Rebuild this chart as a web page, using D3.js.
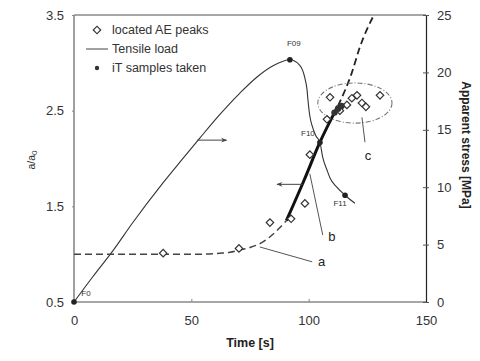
<!DOCTYPE html>
<html>
<head>
<meta charset="utf-8">
<script src="https://cdn.jsdelivr.net/npm/d3@7"></script>
<style>
  body { margin: 0; background: #fff; }
  svg { display: block; font-family: "Liberation Sans", Arial, sans-serif; }
</style>
</head>
<body>
<div id="chart"></div>
<script>
// --- data ---
// tensile load curve: time [s] / apparent stress [MPa]
const loadTime   = [0, 8, 16.7, 25, 38, 46, 53.7, 62, 70.7, 78, 85, 92, 96.3, 98.4, 99.3, 99.7, 100.5, 101.4, 103, 104.8, 106, 107.8, 109.1, 112, 115.5, 119.7];
const loadStress = [0, 2.2, 4.5, 6.9, 10.4, 12.4, 14.3, 16.3, 18.2, 19.6, 20.6, 21.1, 20.6, 19.5, 18.5, 17.6, 16.2, 15.4, 14.5, 13.9, 12.6, 11.5, 10.8, 10.0, 9.3, 8.6];

// crack growth a/a0 : dashed start, bold middle, dashed end
const crackLowTime = [0, 20, 40, 55, 62, 66.5, 70, 75, 80, 84.4, 87, 90.5];
const crackLowA    = [1.0, 1.0, 1.0, 1.0, 1.01, 1.02, 1.04, 1.07, 1.12, 1.2, 1.26, 1.35];
const crackMidTime = [90.5, 98, 104.8, 112.5];
const crackMidA    = [1.35, 1.77, 2.17, 2.55];
const crackUpTime  = [112.5, 118.3, 121.9, 127.8];
const crackUpA     = [2.55, 2.89, 3.17, 3.5];

// located AE peaks
const aeTime = [38, 70.3, 83.5, 92.5, 98.4, 100.5, 107.8, 109.1, 113.3, 116.3, 118.4, 120.6, 122.7, 124.4, 130.4];
const aeA    = [1.01, 1.06, 1.33, 1.37, 1.53, 2.04, 2.41, 2.64, 2.50, 2.56, 2.63, 2.66, 2.58, 2.54, 2.66];

// iT samples on the load curve (F0, F09, F10, F11) and on the crack curve
const itLabels = ["F0", "F09", "F10", "F11"];
const itTime   = [0, 92, 104.8, 115.5];
const itStress = [0, 21.1, 13.9, 9.3];
const itCrackTime = [111, 112.5, 114];
const itCrackA    = [2.48, 2.52, 2.55];

const xTicks = [0, 50, 100, 150];
const yLeftTicks = [0.5, 1.5, 2.5, 3.5];
const yRightTicks = [0, 5, 10, 15, 20, 25];

const width = 480, height = 361;
const margin = { top: 15, right: 54, bottom: 59, left: 74 };

const svg = d3.select("#chart").append("svg")
    .attr("width", width)
    .attr("height", height);

const x = d3.scaleLinear().domain([0, 150]).range([margin.left, width - margin.right]);
const yL = d3.scaleLinear().domain([0.5, 3.5]).range([height - margin.bottom, margin.top]);
const yR = d3.scaleLinear().domain([0, 25]).range([height - margin.bottom, margin.top]);

const x0 = x(0), x1 = x(150), yb = yL(0.5), yt = yL(3.5);

// frame
svg.append("line").attr("x1", x0).attr("x2", x1).attr("y1", yt).attr("y2", yt)
    .attr("stroke", "#888").attr("stroke-width", 1.4);
svg.append("line").attr("x1", x0).attr("x2", x1).attr("y1", yb).attr("y2", yb)
    .attr("stroke", "#888").attr("stroke-width", 1.6);
svg.append("line").attr("x1", x0).attr("x2", x0).attr("y1", yt).attr("y2", yb)
    .attr("stroke", "#888").attr("stroke-width", 1.6);

// axes
const axL = svg.append("g").attr("transform", `translate(${x0},0)`)
    .call(d3.axisLeft(yL).tickValues(yLeftTicks).tickFormat(d3.format(".1f")).tickSize(2).tickPadding(8));
const axB = svg.append("g").attr("transform", `translate(0,${yb})`)
    .call(d3.axisBottom(x).tickValues(xTicks).tickSize(-3).tickPadding(14));
const axR = svg.append("g").attr("transform", `translate(${x1},0)`)
    .call(d3.axisRight(yR).tickValues(yRightTicks).tickSize(3).tickPadding(8));
axR.selectAll(".tick line").attr("x1", -3);

[axL, axB].forEach(a => {
    a.select(".domain").remove();
    a.selectAll(".tick line").attr("stroke", "#888");
});
axR.select(".domain").attr("stroke", "#222").attr("stroke-width", 1.2);
axR.selectAll(".tick line").attr("stroke", "#555");
[axL, axB, axR].forEach(a => a.selectAll(".tick text")
    .attr("font-size", 13).attr("fill", "#333").attr("font-family", "Liberation Sans, Arial, sans-serif"));

// axis titles
svg.append("text")
    .attr("transform", `translate(35,160) rotate(-90)`)
    .attr("text-anchor", "middle").attr("font-size", 10.5).attr("fill", "#333")
    .text("a/a").append("tspan").attr("font-size", 8).attr("dy", 2).text("0");
svg.append("text")
    .attr("transform", `translate(462,145) rotate(90)`)
    .attr("text-anchor", "middle").attr("font-size", 12).attr("font-weight", "bold").attr("fill", "#222")
    .text("Apparent stress [MPa]");
svg.append("text")
    .attr("x", 250).attr("y", 347)
    .attr("text-anchor", "middle").attr("font-size", 12.5).attr("font-weight", "bold").attr("fill", "#222")
    .text("Time [s]");

// tensile load curve
const loadLine = d3.line().x(d => x(d[0])).y(d => yR(d[1])).curve(d3.curveMonotoneX);
svg.append("path")
    .datum(d3.zip(loadTime, loadStress))
    .attr("d", loadLine)
    .attr("fill", "none").attr("stroke", "#333").attr("stroke-width", 1.1);

// crack curve
const crackLine = d3.line().x(d => x(d[0])).y(d => yL(d[1])).curve(d3.curveMonotoneX);
svg.append("path")
    .datum(d3.zip(crackLowTime, crackLowA))
    .attr("d", crackLine)
    .attr("fill", "none").attr("stroke", "#444").attr("stroke-width", 1.5)
    .attr("stroke-dasharray", "7,4");
svg.append("path")
    .datum(d3.zip(crackMidTime, crackMidA))
    .attr("d", crackLine)
    .attr("fill", "none").attr("stroke", "#111").attr("stroke-width", 3);
svg.append("path")
    .datum(d3.zip(crackUpTime, crackUpA))
    .attr("d", crackLine)
    .attr("fill", "none").attr("stroke", "#222").attr("stroke-width", 1.8)
    .attr("stroke-dasharray", "7,4");

// ellipse c
svg.append("ellipse")
    .attr("cx", x(119.7)).attr("cy", yL(2.58))
    .attr("rx", x(119.7 + 15.8) - x(119.7)).attr("ry", yL(2.58) - yL(2.79))
    .attr("fill", "none").attr("stroke", "#777").attr("stroke-width", 1.1)
    .attr("stroke-dasharray", "5,2,1,2");

// AE peaks (diamonds: squares turned by 45 degrees)
const diamond = d3.symbol().type(d3.symbolSquare).size(28);
svg.append("g").selectAll("path")
    .data(d3.zip(aeTime, aeA))
    .join("path")
    .attr("d", diamond)
    .attr("transform", d => `translate(${x(d[0])},${yL(d[1])}) rotate(45)`)
    .attr("fill", "#fff").attr("stroke", "#333").attr("stroke-width", 1.2);

// iT samples
svg.append("g").selectAll("circle")
    .data(d3.zip(itTime, itStress))
    .join("circle")
    .attr("cx", d => x(d[0])).attr("cy", d => yR(d[1])).attr("r", 2.8)
    .attr("fill", "#222");
svg.append("g").selectAll("circle")
    .data(d3.zip(itCrackTime, itCrackA))
    .join("circle")
    .attr("cx", d => x(d[0])).attr("cy", d => yL(d[1])).attr("r", 3.2)
    .attr("fill", "#333");

const fOffsets = [[12, -6], [4, -14], [-12, -6], [-5, 11]];
svg.append("g").selectAll("text")
    .data(d3.zip(itLabels, itTime, itStress, fOffsets))
    .join("text")
    .attr("x", d => x(d[1]) + d[3][0]).attr("y", d => yR(d[2]) + d[3][1])
    .attr("text-anchor", "middle").attr("font-size", 8).attr("fill", "#333")
    .text(d => d[0]);

// arrows
const defs = svg.append("defs");
defs.append("marker").attr("id", "head")
    .attr("viewBox", "0 0 10 10").attr("refX", 9).attr("refY", 5)
    .attr("markerWidth", 8).attr("markerHeight", 6).attr("orient", "auto")
    .append("path").attr("d", "M0,1 L10,5 L0,9 L3,5 Z").attr("fill", "#444");
svg.append("line")
    .attr("x1", x(52.5)).attr("y1", yR(14.1)).attr("x2", x(65)).attr("y2", yR(14.1))
    .attr("stroke", "#444").attr("stroke-width", 1).attr("marker-end", "url(#head)");
svg.append("line")
    .attr("x1", x(97.5)).attr("y1", yL(1.73)).attr("x2", x(86.5)).attr("y2", yL(1.73))
    .attr("stroke", "#444").attr("stroke-width", 1).attr("marker-end", "url(#head)");

// annotation lines and letters
const notes = [
    { t: "a", from: [79.2, 1.075], to: [101.5, 0.92], lx: 105.5, ly: 0.88 },
    { t: "b", from: [100.5, 1.84], to: [106, 1.2], lx: 109.9, ly: 1.14 },
    { t: "c", from: [122.7, 2.43], to: [124, 2.17], lx: 125.3, ly: 1.98 }
];
notes.forEach(n => {
    svg.append("line")
        .attr("x1", x(n.from[0])).attr("y1", yL(n.from[1]))
        .attr("x2", x(n.to[0])).attr("y2", yL(n.to[1]))
        .attr("stroke", "#555").attr("stroke-width", 1);
    svg.append("text")
        .attr("x", x(n.lx)).attr("y", yL(n.ly))
        .attr("text-anchor", "middle").attr("font-size", 13).attr("fill", "#222")
        .text(n.t);
});

// legend
const lg = svg.append("g").attr("font-size", 12.5).attr("fill", "#333");
lg.append("path").attr("d", diamond).attr("transform", "translate(97,30) rotate(45)")
    .attr("fill", "#fff").attr("stroke", "#333").attr("stroke-width", 1.2);
lg.append("text").attr("x", 112).attr("y", 34).text("located AE peaks");
lg.append("line").attr("x1", 86).attr("x2", 108).attr("y1", 49).attr("y2", 49)
    .attr("stroke", "#444").attr("stroke-width", 1);
lg.append("text").attr("x", 112).attr("y", 53).text("Tensile load");
lg.append("circle").attr("cx", 97).attr("cy", 68).attr("r", 2.2).attr("fill", "#333");
lg.append("text").attr("x", 112).attr("y", 72).text("iT samples taken");
</script>
</body>
</html>
